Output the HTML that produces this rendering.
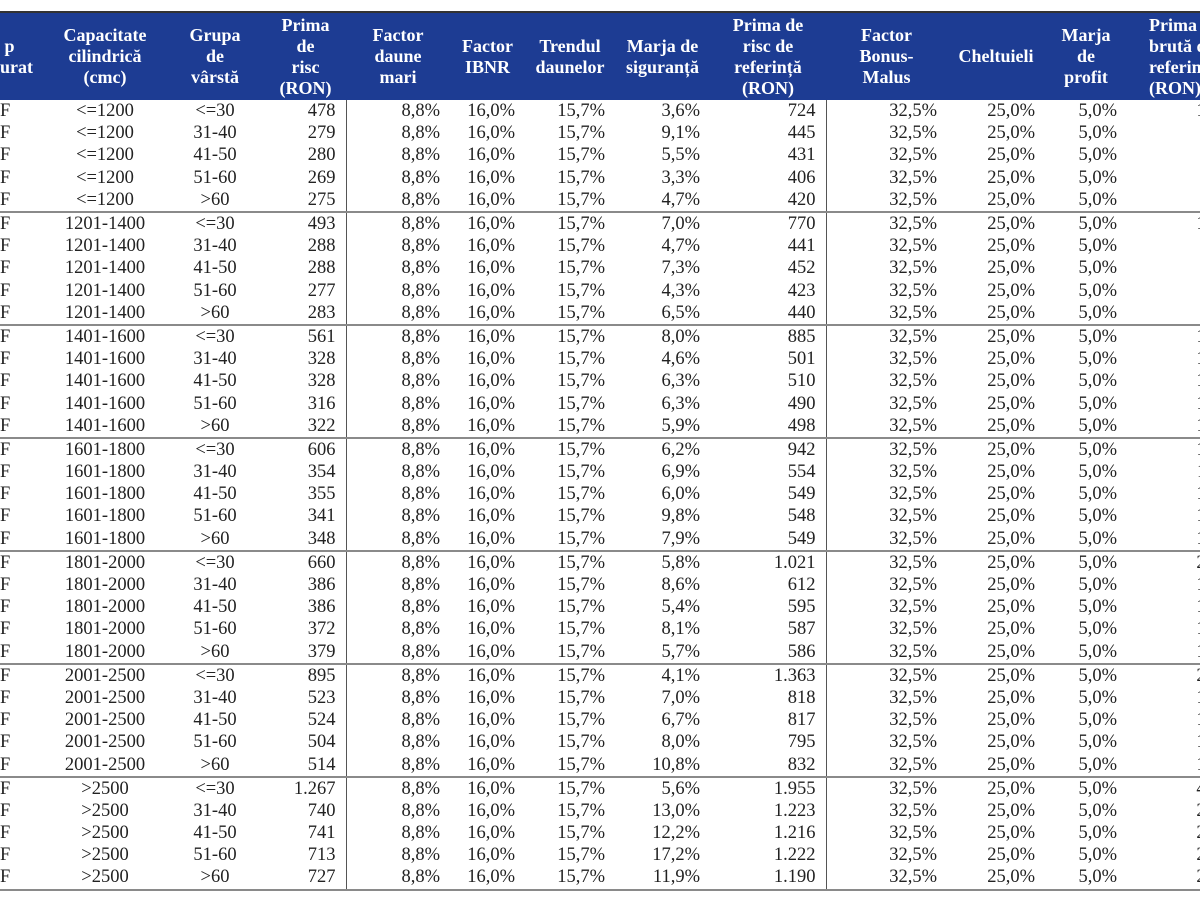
<!DOCTYPE html>
<html><head><meta charset="utf-8"><style>
html,body{margin:0;padding:0;width:1200px;height:900px;overflow:hidden;background:#fff;}
table{position:absolute;left:0;top:11px;border-collapse:collapse;table-layout:fixed;width:1248px;font-family:"Liberation Serif",serif;}
th{background:#1d3c93;color:#fff;font-weight:bold;font-size:18px;line-height:21px;height:87px;padding:0;text-align:center;vertical-align:middle;}
td{font-size:18.5px;color:#222;height:22.2px;padding:0;line-height:20px;text-align:right;padding-right:10px;white-space:nowrap;}
td.c{text-align:center;padding-right:0;}
td.l{text-align:left;padding-right:0;}
td.v{border-right:1.5px solid #555;}
tr.s td{border-top:2px solid #8a8a8a;}
tbody tr:last-child td{border-bottom:2px solid #8a8a8a;}
thead tr{border-top:2px solid #333;}
</style></head><body>
<table>
<colgroup><col style="width:45px"><col style="width:120px"><col style="width:100px"><col style="width:81px"><col style="width:104px"><col style="width:75px"><col style="width:90px"><col style="width:95px"><col style="width:116px"><col style="width:121px"><col style="width:98px"><col style="width:82px"><col style="width:121px"></colgroup>
<thead><tr><th style="text-align:left">&nbsp;p<br>urat</th><th>Capacitate<br>cilindrică<br>(cmc)</th><th>Grupa<br>de<br>vârstă</th><th>Prima<br>de<br>risc<br>(RON)</th><th>Factor<br>daune<br>mari</th><th>Factor<br>IBNR</th><th>Trendul<br>daunelor</th><th>Marja de<br>siguranță</th><th>Prima de<br>risc de<br>referință<br>(RON)</th><th>Factor<br>Bonus-<br>Malus</th><th>Cheltuieli</th><th>Marja<br>de<br>profit</th><th style="text-align:left;padding-left:22px">Prima<br>brută de<br>referință<br>(RON)</th></tr></thead>
<tbody id="tb"></tbody></table>
<script>
var caps=["<=1200","1201-1400","1401-1600","1601-1800","1801-2000","2001-2500",">2500"];
var ages=["<=30","31-40","41-50","51-60",">60"];
var pr=[[478,279,280,269,275],[493,288,288,277,283],[561,328,328,316,322],[606,354,355,341,348],[660,386,386,372,379],[895,523,524,504,514],["1.267",740,741,713,727]];
var mg=[["3,6","9,1","5,5","3,3","4,7"],["7,0","4,7","7,3","4,3","6,5"],["8,0","4,6","6,3","6,3","5,9"],["6,2","6,9","6,0","9,8","7,9"],["5,8","8,6","5,4","8,1","5,7"],["4,1","7,0","6,7","8,0","10,8"],["5,6","13,0","12,2","17,2","11,9"]];
var rf=[[724,445,431,406,420],[770,441,452,423,440],[885,501,510,490,498],[942,554,549,548,549],["1.021",612,595,587,586],["1.363",818,817,795,832],["1.955","1.223","1.216","1.222","1.190"]];
var lb=[["1.065",655,634,597,618],["1.132",649,665,622,647],["1.302","1.037","1.050","1.021","1.033"],["1.386","1.115","1.108","1.106","1.108"],["2.101","1.201","1.175","1.163","1.161"],["2.005","1.203","1.202","1.169","1.224"],["4.876","2.799","2.788","2.797","2.751"]];
var h="";
for(var g=0;g<7;g++)for(var i=0;i<5;i++){
h+='<tr'+(i==0&&g>0?' class="s"':'')+'><td class="l">F</td><td class="c">'+caps[g].replace("<","&lt;").replace(">","&gt;")+'</td><td class="c">'+ages[i].replace("<","&lt;").replace(">","&gt;")+'</td><td class="v">'+pr[g][i]+'</td><td>8,8%</td><td>16,0%</td><td>15,7%</td><td>'+mg[g][i]+'%</td><td class="v">'+rf[g][i]+'</td><td>32,5%</td><td>25,0%</td><td>5,0%</td><td>'+lb[g][i]+'</td></tr>';}
document.getElementById("tb").innerHTML=h;
</script>
</body></html>
